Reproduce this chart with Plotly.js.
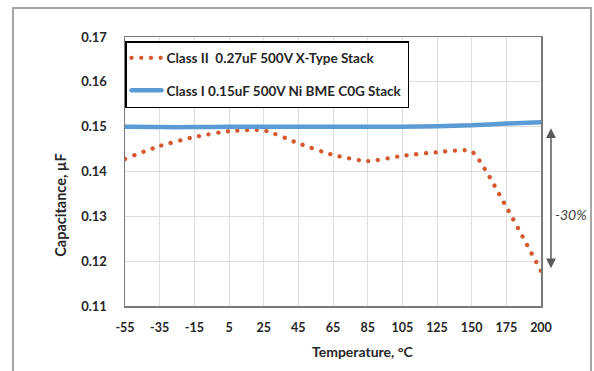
<!DOCTYPE html>
<html>
<head>
<meta charset="utf-8">
<script src="https://cdn.plot.ly/plotly-3.0.1.min.js"></script>
<style>
  html, body { margin: 0; padding: 0; background: #fff; }
  #chart { width: 594px; height: 371px; }
  /* round caps turn the dotted series into round dots */
  #chart .js-line { stroke-linecap: round !important; }
</style>
</head>
<body>
<div id="chart"></div>
<script>
// Temperature steps (°C), drawn as evenly spaced categories
const temps = ['-55', '-35', '-15', '5', '25', '45', '65', '85', '105', '125', '150', '175', '200'];

// Capacitance (µF) of each stack across temperature
const classII = [0.1428, 0.1457, 0.1477, 0.1490, 0.1492, 0.1463, 0.1437, 0.1423, 0.1435, 0.1443, 0.1445, 0.1321, 0.1178];
const classI  = [0.1500, 0.1499, 0.1499, 0.1500, 0.1500, 0.1500, 0.1500, 0.1500, 0.1500, 0.1501, 0.1503, 0.1507, 0.1510];

const yTicks = [0.11, 0.12, 0.13, 0.14, 0.15, 0.16, 0.17];

const seriesNames = ['Class II\u00a0 0.27uF 500V X-Type Stack', 'Class I 0.15uF 500V Ni BME C0G Stack'];
const dropLabel = '-30%';

const FONT = 'Lato, "Liberation Sans", Arial, sans-serif';

const traces = [
  {
    x: temps, y: classII, name: seriesNames[0], legendgroup: 'a',
    type: 'scatter', mode: 'lines',
    line: { color: '#D6582E', width: 4.3, dash: '0.1px,9.6px', shape: 'spline', smoothing: 0.5 }
  },
  {
    x: temps, y: classI, name: seriesNames[1], legendgroup: 'b',
    type: 'scatter', mode: 'lines',
    line: { color: '#5B9BD5', width: 4.5, shape: 'spline', smoothing: 0.5 }
  }
];

const layout = {
  width: 594, height: 371,
  margin: { l: 125, r: 53, t: 37, b: 65 },
  paper_bgcolor: '#ffffff', plot_bgcolor: '#ffffff',
  font: { family: FONT, color: '#262626' },
  showlegend: true,
  legend: {
    x: 0.0, y: 0.985, xanchor: 'left', yanchor: 'top',
    bgcolor: '#ffffff', bordercolor: '#000000', borderwidth: 1.5,
    font: { family: FONT, size: 13.5, color: '#262626', weight: 'bold' },
    tracegroupgap: 12, traceorder: 'grouped'
  },
  xaxis: {
    type: 'category', range: [0, 12],
    showgrid: true, gridcolor: '#dedede', gridwidth: 1,
    showline: true, mirror: true, linecolor: '#7a7a7a', linewidth: 1.5,
    ticks: '', ticklabelstandoff: 9,
    tickfont: { family: FONT, size: 12.5, color: '#262626', weight: 'bold' },
    zeroline: false, fixedrange: true
  },
  yaxis: {
    range: [0.11, 0.17], tickvals: yTicks, tickformat: '.2f',
    showgrid: true, gridcolor: '#dedede', gridwidth: 1,
    showline: true, mirror: true, linecolor: '#7a7a7a', linewidth: 1.5,
    ticks: '', ticklabelstandoff: 14,
    tickfont: { family: FONT, size: 13, color: '#262626', weight: 'bold' },
    zeroline: false, fixedrange: true
  },
  shapes: [
    // outer chart frame
    {
      type: 'rect', xref: 'paper', yref: 'paper',
      x0: -0.2692, x1: 1.1202, y0: -0.6, y1: 1.1078,
      line: { color: '#a6a6a6', width: 2 }, fillcolor: 'rgba(0,0,0,0)', layer: 'below'
    }
  ],
  annotations: [
    // double-headed arrow showing the drop at 200 °C
    {
      xref: 'paper', yref: 'y', axref: 'pixel', ayref: 'y',
      x: 1.024, y: classII[classII.length - 1] + 0.0006,
      ax: 0, ay: classI[0],
      text: '', showarrow: true, arrowside: 'end+start',
      arrowhead: 2, arrowsize: 1.3, arrowwidth: 1.5, arrowcolor: '#595959'
    },
    {
      xref: 'paper', yref: 'y', x: 1.072, y: 0.1303,
      xanchor: 'center', yanchor: 'middle',
      text: dropLabel, showarrow: false,
      font: { family: FONT, size: 14, color: '#404040', style: 'italic' }
    },
    // axis titles
    {
      xref: 'paper', yref: 'paper', x: 0.572, y: -0.171,
      xanchor: 'center', yanchor: 'middle',
      text: 'Temperature, °C', showarrow: false,
      font: { family: FONT, size: 14, color: '#262626', weight: 'bold' }
    },
    {
      xref: 'paper', yref: 'paper', x: -0.154, y: 0.376,
      xanchor: 'center', yanchor: 'middle',
      text: 'Capacitance, µF', showarrow: false, textangle: -90,
      font: { family: FONT, size: 14.5, color: '#262626', weight: 'bold' }
    }
  ]
};

Plotly.newPlot('chart', traces, layout, { staticPlot: true, displayModeBar: false });
</script>
</body>
</html>
